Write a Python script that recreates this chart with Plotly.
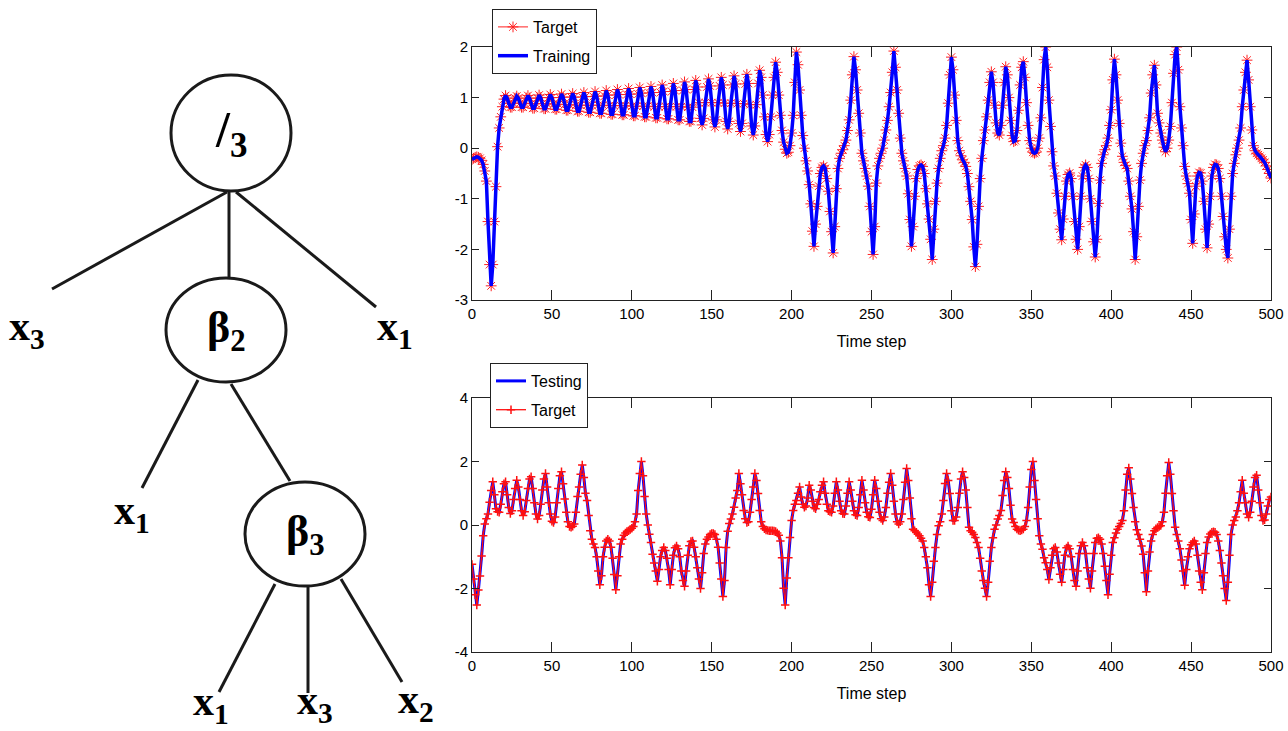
import plotly.graph_objects as go

W, H = 1288, 731

# ---------------- data ----------------
time_ticks = [0, 50, 100, 150, 200, 250, 300, 350, 400, 450, 500]
time_ticktext = ["0", "50", "100", "150", "200", "250", "300", "350", "400", "450", "500"]
train_yticks = [-3, -2, -1, 0, 1, 2]
train_yticktext = ["-3", "-2", "-1", "0", "1", "2"]
test_yticks = [-4, -2, 0, 2, 4]
test_yticktext = ["-4", "-2", "0", "2", "4"]

train_target = [
    -0.22, -0.20, -0.18, -0.17, -0.18, -0.20, -0.24, -0.32, -0.45, -0.65,
    -1.45, -2.30, -2.72, -2.30, -1.45, -0.76, 0.03, 0.40, 0.62, 0.82,
    0.97, 1.04, 0.99, 0.89, 0.81, 0.81, 0.89, 0.99, 1.03, 0.99,
    0.89, 0.81, 0.81, 0.89, 0.99, 1.04, 0.99, 0.88, 0.79, 0.79,
    0.88, 0.99, 1.05, 1.00, 0.88, 0.78, 0.78, 0.88, 1.00, 1.06,
    1.00, 0.87, 0.77, 0.77, 0.87, 1.00, 1.07, 1.01, 0.86, 0.75,
    0.75, 0.86, 1.01, 1.08, 1.01, 0.85, 0.73, 0.73, 0.85, 1.01,
    1.10, 1.02, 0.85, 0.71, 0.71, 0.85, 1.02, 1.12, 1.03, 0.85,
    0.69, 0.69, 0.85, 1.03, 1.14, 1.05, 0.84, 0.67, 0.67, 0.84,
    1.05, 1.16, 1.06, 0.84, 0.66, 0.66, 0.84, 1.06, 1.18, 1.07,
    0.83, 0.64, 0.64, 0.83, 1.07, 1.20, 1.09, 0.83, 0.62, 0.62,
    0.83, 1.09, 1.22, 1.10, 0.82, 0.60, 0.60, 0.82, 1.10, 1.25,
    1.12, 0.82, 0.58, 0.58, 0.82, 1.12, 1.28, 1.14, 0.82, 0.56,
    0.56, 0.82, 1.14, 1.31, 1.16, 0.81, 0.53, 0.53, 0.81, 1.16,
    1.34, 1.21, 0.90, 0.59, 0.46, 0.59, 0.90, 1.21, 1.37, 1.23,
    0.90, 0.56, 0.42, 0.56, 0.90, 1.23, 1.40, 1.25, 0.89, 0.53,
    0.38, 0.53, 0.89, 1.25, 1.43, 1.27, 0.88, 0.49, 0.33, 0.49,
    0.88, 1.27, 1.46, 1.28, 0.86, 0.44, 0.26, 0.44, 0.86, 1.28,
    1.54, 1.40, 1.05, 0.62, 0.27, 0.13, 0.27, 0.62, 1.05, 1.40,
    1.70, 1.50, 1.05, 0.65, 0.35, 0.12, -0.02, -0.10, -0.08, 0.05,
    0.30, 0.65, 1.30, 1.90, 1.65, 1.15, 0.65, 0.25, 0.00, -0.25,
    -0.45, -0.72, -1.10, -1.64, -1.94, -1.50, -1.15, -0.75, -0.50, -0.38,
    -0.35, -0.40, -0.60, -0.85, -1.25, -1.65, -2.07, -1.55, -0.80, -0.40,
    -0.20, -0.10, -0.03, 0.05, 0.16, 0.35, 0.56, 0.95, 1.45, 1.81,
    1.55, 1.15, 0.69, 0.30, -0.10, -0.25, -0.40, -0.55, -0.75, -1.15,
    -1.65, -2.10, -1.55, -0.69, -0.35, -0.20, -0.10, 0.00, 0.16, 0.36,
    0.55, 0.82, 1.10, 1.50, 1.92, 1.60, 1.15, 0.69, 0.20, -0.10,
    -0.25, -0.40, -0.55, -0.90, -1.41, -1.94, -1.55, -0.95, -0.60, -0.42,
    -0.35, -0.33, -0.36, -0.50, -0.80, -1.10, -1.40, -1.80, -2.20, -1.60,
    -1.05, -0.69, -0.40, -0.20, -0.05, 0.05, 0.20, 0.45, 0.89, 1.45,
    1.80, 1.55, 1.05, 0.55, 0.15, -0.05, -0.15, -0.23, -0.28, -0.36,
    -0.50, -0.76, -1.05, -1.41, -1.95, -2.34, -1.90, -1.15, -0.60, -0.20,
    0.15, 0.36, 0.62, 0.95, 1.30, 1.51, 1.30, 0.85, 0.50, 0.30,
    0.26, 0.45, 0.85, 1.30, 1.61, 1.45, 1.00, 0.55, 0.25, 0.13,
    0.15, 0.35, 0.75, 1.25, 1.60, 1.71, 1.40, 0.90, 0.45, 0.15,
    0.00, -0.08, -0.10, -0.08, 0.00, 0.20, 0.60, 1.20, 1.75, 2.00,
    1.60, 0.95, 0.43, -0.07, -0.35, -0.55, -0.89, -1.28, -1.60, -1.81,
    -1.40, -0.95, -0.65, -0.52, -0.49, -0.60, -0.95, -1.45, -1.80, -2.00,
    -1.55, -0.95, -0.55, -0.38, -0.33, -0.38, -0.60, -1.00, -1.45, -1.85,
    -2.15, -1.80, -1.09, -0.63, -0.30, -0.13, -0.03, 0.05, 0.20, 0.45,
    0.76, 1.35, 1.76, 1.45, 0.95, 0.49, 0.10, -0.16, -0.28, -0.34,
    -0.40, -0.65, -0.95, -1.20, -1.65, -2.20, -1.75, -1.15, -0.63, -0.30,
    -0.10, 0.05, 0.15, 0.35, 0.60, 1.09, 1.45, 1.64, 1.25, 0.69,
    0.50, 0.30, 0.16, 0.02, -0.07, 0.00, 0.16, 0.43, 0.90, 1.48,
    1.85, 2.00, 1.55, 0.82, 0.40, 0.05, -0.36, -0.55, -0.70, -0.89,
    -1.41, -1.88, -1.30, -0.75, -0.55, -0.48, -0.49, -0.65, -1.05, -1.60,
    -1.97, -1.50, -0.95, -0.55, -0.38, -0.32, -0.33, -0.40, -0.60, -0.95,
    -1.35, -1.75, -2.00, -2.17, -1.60, -0.95, -0.50, -0.30, -0.13, 0.00,
    0.16, 0.40, 0.82, 1.15, 1.50, 1.74, 1.35, 0.82, 0.36, 0.05,
    -0.05, -0.10, -0.13, -0.16, -0.20, -0.23, -0.28, -0.35, -0.42, -0.50,
    -0.59,
]
# the trained output lies on top of the target everywhere in the picture
train_output = list(train_target)

test_target = [
    -1.24, -1.70, -2.20, -2.52, -2.05, -1.61, -0.98, -0.34, 0.03, 0.20,
    0.35, 0.72, 1.09, 1.36, 0.95, 0.51, 0.42, 0.40, 0.65, 1.05,
    1.30, 1.36, 0.95, 0.55, 0.36, 0.45, 0.80, 1.15, 1.41, 1.20,
    0.80, 0.45, 0.30, 0.42, 0.77, 1.15, 1.45, 1.52, 1.15, 0.70,
    0.35, 0.19, 0.30, 0.65, 1.10, 1.45, 1.62, 1.20, 0.70, 0.35,
    0.12, 0.08, 0.25, 0.70, 1.15, 1.55, 1.68, 1.30, 0.82, 0.40,
    0.10, -0.05, -0.07, -0.04, 0.03, 0.40, 0.90, 1.20, 1.60, 1.89,
    1.50, 1.00, 0.77, 0.30, -0.18, -0.45, -0.60, -0.71, -1.00, -1.45,
    -1.88, -1.60, -1.00, -0.70, -0.50, -0.45, -0.50, -0.70, -1.05, -1.56,
    -2.04, -1.60, -1.00, -0.60, -0.45, -0.32, -0.25, -0.20, -0.18, -0.14,
    -0.10, -0.05, 0.10, 0.35, 1.09, 1.62, 2.00, 1.55, 0.90, 0.35,
    0.00, -0.29, -0.55, -0.92, -1.20, -1.45, -1.77, -1.40, -1.00, -0.80,
    -0.71, -0.80, -1.05, -1.40, -1.88, -1.40, -0.95, -0.72, -0.66, -0.75,
    -1.00, -1.45, -1.75, -1.93, -1.45, -0.95, -0.65, -0.52, -0.50, -0.70,
    -1.00, -1.35, -1.70, -2.00, -1.50, -0.90, -0.60, -0.45, -0.38, -0.30,
    -0.27, -0.27, -0.30, -0.45, -0.70, -1.20, -1.70, -2.25, -1.75, -0.71,
    -0.20, 0.05, 0.19, 0.35, 0.56, 0.85, 1.09, 1.62, 1.30, 0.95,
    0.46, 0.20, 0.08, 0.10, 0.40, 0.80, 1.20, 1.62, 1.40, 0.99,
    0.46, 0.10, -0.05, -0.12, -0.16, -0.17, -0.18, -0.18, -0.18, -0.19,
    -0.20, -0.25, -0.32, -0.50, -1.03, -1.99, -2.52, -1.67, -1.03, -0.39,
    0.14, 0.46, 0.65, 0.77, 1.00, 1.20, 0.88, 0.65, 0.56, 0.60,
    0.85, 1.25, 1.10, 0.75, 0.55, 0.51, 0.65, 0.80, 1.05, 1.25,
    1.36, 1.00, 0.65, 0.45, 0.42, 0.40, 0.60, 1.00, 1.36, 1.10,
    0.75, 0.45, 0.36, 0.35, 0.60, 1.00, 1.36, 1.10, 0.75, 0.45,
    0.32, 0.30, 0.55, 0.95, 1.41, 1.10, 0.70, 0.40, 0.26, 0.24,
    0.50, 0.95, 1.41, 1.15, 0.75, 0.40, 0.20, 0.14, 0.25, 0.55,
    1.00, 1.35, 1.62, 1.25, 0.75, 0.35, 0.10, 0.03, 0.10, 0.35,
    0.80, 1.35, 1.78, 1.40, 0.85, 0.20, -0.13, -0.18, -0.23, -0.28,
    -0.34, -0.42, -0.50, -0.71, -1.00, -1.35, -1.88, -2.25, -1.80, -1.14,
    -0.71, -0.30, -0.02, 0.10, 0.35, 0.77, 1.31, 1.62, 1.40, 0.99,
    0.45, 0.14, 0.14, 0.25, 0.55, 1.00, 1.45, 1.68, 1.50, 1.10,
    0.55, -0.07, -0.18, -0.23, -0.30, -0.39, -0.55, -0.71, -1.05, -1.45,
    -1.75, -1.99, -2.25, -1.80, -1.14, -0.71, -0.40, -0.13, 0.00, 0.19,
    0.30, 0.46, 0.93, 1.40, 1.68, 1.50, 1.15, 0.62, 0.19, 0.08,
    -0.05, -0.13, -0.17, -0.18, -0.16, -0.13, -0.05, 0.14, 0.55, 1.20,
    1.75, 2.00, 1.40, 0.80, 0.20, -0.34, -0.60, -0.76, -1.03, -1.19,
    -1.40, -1.72, -1.35, -0.95, -0.75, -0.71, -0.85, -1.20, -1.55, -1.80,
    -1.40, -0.95, -0.72, -0.66, -0.75, -1.00, -1.40, -1.75, -1.93, -1.45,
    -0.90, -0.65, -0.55, -0.65, -0.90, -1.35, -1.70, -1.99, -1.45, -0.90,
    -0.55, -0.42, -0.40, -0.45, -0.60, -0.90, -1.30, -1.75, -2.20, -1.55,
    -0.95, -0.55, -0.40, -0.25, -0.13, -0.05, 0.05, 0.14, 0.45, 1.10,
    1.60, 1.80, 1.45, 0.99, 0.55, 0.10, -0.15, -0.30, -0.45, -0.66,
    -0.92, -1.50, -2.10, -1.45, -0.85, -0.50, -0.30, -0.18, -0.12, -0.08,
    -0.05, -0.02, 0.10, 0.40, 1.00, 1.55, 1.97, 1.60, 0.99, 0.45,
    -0.07, -0.30, -0.50, -0.75, -1.10, -1.45, -1.90, -1.40, -1.00, -0.75,
    -0.62, -0.55, -0.50, -0.60, -0.95, -1.45, -1.80, -2.04, -1.50, -0.90,
    -0.55, -0.38, -0.28, -0.23, -0.21, -0.23, -0.30, -0.50, -0.80, -1.20,
    -1.60, -2.00, -2.38, -1.80, -0.95, -0.30, 0.00, 0.14, 0.25, 0.45,
    0.70, 1.05, 1.41, 1.00, 0.70, 0.35, 0.24, 0.40, 0.75, 1.20,
    1.50, 1.57, 1.10, 0.70, 0.30, 0.14, 0.16, 0.35, 0.60, 0.80,
    0.88,
]
test_output = list(test_target)

train_steps = list(range(len(train_target)))
test_steps = list(range(len(test_target)))

# tree diagram content: (label, font size, centre px, radii px), edges, leaf labels
tree_nodes = [
    ("<b>/</b><sub><b>3</b></sub>", 50, 231, 133, 60, 58),
    ("<b>β</b><sub><b>2</b></sub>", 44, 226, 330, 60, 52),
    ("<b>β</b><sub><b>3</b></sub>", 44, 305, 534, 60, 52),
]
tree_edges = [
    (227, 192, 52, 289), (229, 192, 229, 278), (236, 192, 376, 307),
    (198, 380, 142, 488), (231, 384, 290, 481),
    (275, 584, 219, 692), (308, 587, 308, 693), (341, 579, 402, 682),
]
tree_leaves = [
    ("x", "3", 27, 329), ("x", "1", 395, 329), ("x", "1", 132, 513),
    ("x", "1", 211, 704), ("x", "3", 315, 703), ("x", "2", 416, 702),
]

# ---------------- figure ----------------
AX_FONT = "Liberation Sans, Arial, sans-serif"
TREE_FONT = "Liberation Serif, Times New Roman, serif"
FS = 15


def px(x):
    return x / W


def py(y):
    return 1 - y / H


fig = go.Figure()

fig.add_trace(go.Scatter(
    x=train_steps, y=train_target, name="Target", mode="lines+markers",
    line=dict(color="#ff2020", width=1),
    marker=dict(symbol="asterisk-open", size=9, color="#ff2020",
                line=dict(color="#ff2020", width=1)),
    xaxis="x", yaxis="y", legend="legend", legendgroup="a"))
fig.add_trace(go.Scatter(
    x=train_steps, y=train_output, name="Training", mode="lines",
    line=dict(color="#0000ff", width=3.5),
    xaxis="x", yaxis="y", legend="legend", legendgroup="b"))

fig.add_trace(go.Scatter(
    x=test_steps, y=test_output, name="Testing", mode="lines",
    line=dict(color="#0000ff", width=3),
    xaxis="x2", yaxis="y2", legend="legend2", legendgroup="c"))
fig.add_trace(go.Scatter(
    x=test_steps, y=test_target, name="Target", mode="lines+markers",
    line=dict(color="#ff1010", width=1.3),
    marker=dict(symbol="cross-thin-open", size=6, color="#ff1010",
                line=dict(color="#ff1010", width=1.5)),
    xaxis="x2", yaxis="y2", legend="legend2", legendgroup="d"))

axis_common = dict(
    showline=True, linecolor="#222", linewidth=1, mirror="ticks",
    ticks="inside", tickcolor="#222", showgrid=False, zeroline=False,
    automargin=False,
    tickfont=dict(family=AX_FONT, size=FS, color="black"),
)

x_dom = [px(472), px(1271)]
legend_common = dict(xanchor="left", yanchor="top", bgcolor="white",
                     bordercolor="#222", borderwidth=1, tracegroupgap=5,
                     font=dict(family=AX_FONT, size=FS + 1, color="black"))
fig.update_layout(
    xaxis=dict(domain=x_dom, anchor="y", range=[0, 500], tickvals=time_ticks,
               ticktext=time_ticktext, ticklen=10,
               title=dict(text="Time step", standoff=14,
                          font=dict(family=AX_FONT, size=FS + 1, color="black")),
               **axis_common),
    yaxis=dict(domain=[py(300), py(47)], anchor="x", range=[-3, 2],
               tickvals=train_yticks, ticktext=train_yticktext, ticklen=7,
               **axis_common),
    xaxis2=dict(domain=x_dom, anchor="y2", range=[0, 500], tickvals=time_ticks,
                ticktext=time_ticktext, ticklen=10,
                title=dict(text="Time step", standoff=14,
                           font=dict(family=AX_FONT, size=FS + 1, color="black")),
                **axis_common),
    yaxis2=dict(domain=[py(652), py(398)], anchor="x2", range=[-4, 4],
                tickvals=test_yticks, ticktext=test_yticktext, ticklen=7,
                **axis_common),
    legend=dict(x=px(492), y=py(9), **legend_common),
    legend2=dict(x=px(490), y=py(363), **legend_common),
    width=W, height=H,
    margin=dict(l=0, r=0, t=0, b=0, pad=0, autoexpand=False),
    paper_bgcolor="white", plot_bgcolor="white", showlegend=True,
)

shapes = []
for (x0, y0, x1, y1) in tree_edges:
    shapes.append(dict(type="line", xref="paper", yref="paper",
                       x0=px(x0), y0=py(y0), x1=px(x1), y1=py(y1),
                       line=dict(color="#1a1a1a", width=3)))
for (_, _, cx, cy, rx, ry) in tree_nodes:
    shapes.append(dict(type="circle", xref="paper", yref="paper",
                       x0=px(cx - rx), x1=px(cx + rx), y0=py(cy + ry), y1=py(cy - ry),
                       line=dict(color="#1a1a1a", width=3), fillcolor="white"))
fig.update_layout(shapes=shapes)

annotations = []
for (label, size, cx, cy, rx, ry) in tree_nodes:
    annotations.append(dict(text=label, x=px(cx), y=py(cy), xref="paper", yref="paper",
                            showarrow=False, xanchor="center", yanchor="middle",
                            font=dict(family=TREE_FONT, size=size, color="black")))
for (base, sub, cx, cy) in tree_leaves:
    annotations.append(dict(text=f"<b>{base}</b><sub><b>{sub}</b></sub>",
                            x=px(cx), y=py(cy), xref="paper", yref="paper",
                            showarrow=False, xanchor="center", yanchor="middle",
                            font=dict(family=TREE_FONT, size=42, color="black")))
fig.update_layout(annotations=annotations)

page_fix = ("document.body.style.margin='0';"
            "document.body.style.padding='0';"
            "document.body.style.overflow='hidden';"
            "document.documentElement.style.overflow='hidden';")
fig.write_html("out.html", post_script=page_fix,
               config={"displayModeBar": False, "staticPlot": False})
